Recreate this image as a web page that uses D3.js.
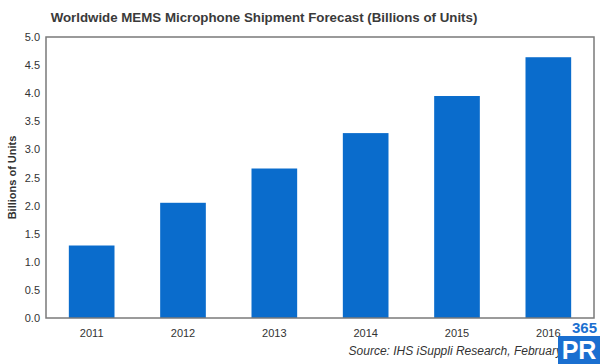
<!DOCTYPE html>
<html>
<head>
<meta charset="utf-8">
<script src="https://cdn.jsdelivr.net/npm/d3@7"></script>
<style>
body { margin: 0; background: #fff; }
svg { font-family: "Liberation Sans", Arial, sans-serif; }
</style>
</head>
<body>
<svg width="600" height="364"></svg>
<script>
var years = ["2011", "2012", "2013", "2014", "2015", "2016"];
var shipments = [1.29, 2.05, 2.66, 3.29, 3.95, 4.64];
var yTicks = [0, 0.5, 1.0, 1.5, 2.0, 2.5, 3.0, 3.5, 4.0, 4.5, 5.0];

var svg = d3.select("svg");
var plotLeft = 46, plotRight = 594, plotTop = 37, plotBottom = 318;

var xs = d3.scaleBand().domain(years)
            .range([plotLeft, plotRight])
            .paddingInner(0.5)
            .paddingOuter(0.25);

var ys = d3.scaleLinear().domain([0, 5]).range([plotBottom, plotTop]);

// title
svg.append("text")
    .attr("x", 264).attr("y", 22)
    .attr("text-anchor", "middle")
    .attr("font-size", 13.3).attr("font-weight", "bold")
    .attr("fill", "#3a3a3a")
    .text("Worldwide MEMS Microphone Shipment Forecast (Billions of Units)");

// bars
svg.append("g")
    .selectAll("rect")
    .data(shipments)
    .enter()
    .append("rect")
        .attr("x", function(d, i) { return xs(years[i]); })
        .attr("y", function(d) { return ys(d); })
        .attr("width", xs.bandwidth())
        .attr("height", function(d) { return ys(0) - ys(d); })
        .attr("fill", "#0a6ccc");

// frame
svg.append("rect")
    .attr("x", plotLeft).attr("y", plotTop)
    .attr("width", plotRight - plotLeft).attr("height", plotBottom - plotTop)
    .attr("fill", "none")
    .attr("stroke", "#7a7a7a").attr("stroke-width", 1.5);

var yAxis = d3.axisLeft(ys)
        .tickValues(yTicks)
        .tickFormat(d3.format(".1f"))
        .tickSize(0).tickPadding(6);

var gy = svg.append("g")
    .attr("transform", "translate(" + plotLeft + ",0)")
    .call(yAxis);
gy.select(".domain").remove();
gy.selectAll("text").attr("font-size", 11).attr("fill", "#333")
    .attr("font-family", "Liberation Sans, Arial, sans-serif");

var xAxis = d3.axisBottom(xs).tickSize(0).tickPadding(11);
var gx = svg.append("g")
    .attr("transform", "translate(0," + plotBottom + ")")
    .call(xAxis);
gx.select(".domain").remove();
gx.selectAll("text").attr("font-size", 11).attr("fill", "#333")
    .attr("font-family", "Liberation Sans, Arial, sans-serif");

// y label
svg.append("text")
    .attr("transform", "translate(16," + ((plotTop + plotBottom) / 2) + ") rotate(-90)")
    .attr("text-anchor", "middle")
    .attr("font-size", 11).attr("font-weight", "bold")
    .attr("fill", "#333")
    .text("Billions of Units");

// source (partly hidden behind the logo, as in the original)
svg.append("text")
    .attr("x", 592).attr("y", 355)
    .attr("text-anchor", "end")
    .attr("font-size", 12).attr("font-style", "italic")
    .attr("fill", "#333")
    .text("Source: IHS iSuppli Research, February 2013");

// watermark
svg.append("text")
    .attr("x", 597).attr("y", 333)
    .attr("text-anchor", "end")
    .attr("font-size", 15).attr("font-weight", "bold")
    .attr("fill", "#1a6fd0")
    .text("365");
svg.append("rect")
    .attr("x", 558).attr("y", 336)
    .attr("width", 42).attr("height", 28)
    .attr("fill", "#1a6fd0");
svg.append("text")
    .attr("x", 579).attr("y", 359)
    .attr("text-anchor", "middle")
    .attr("font-size", 25).attr("font-weight", "bold")
    .attr("fill", "#fff")
    .text("PR");
</script>
</body>
</html>
